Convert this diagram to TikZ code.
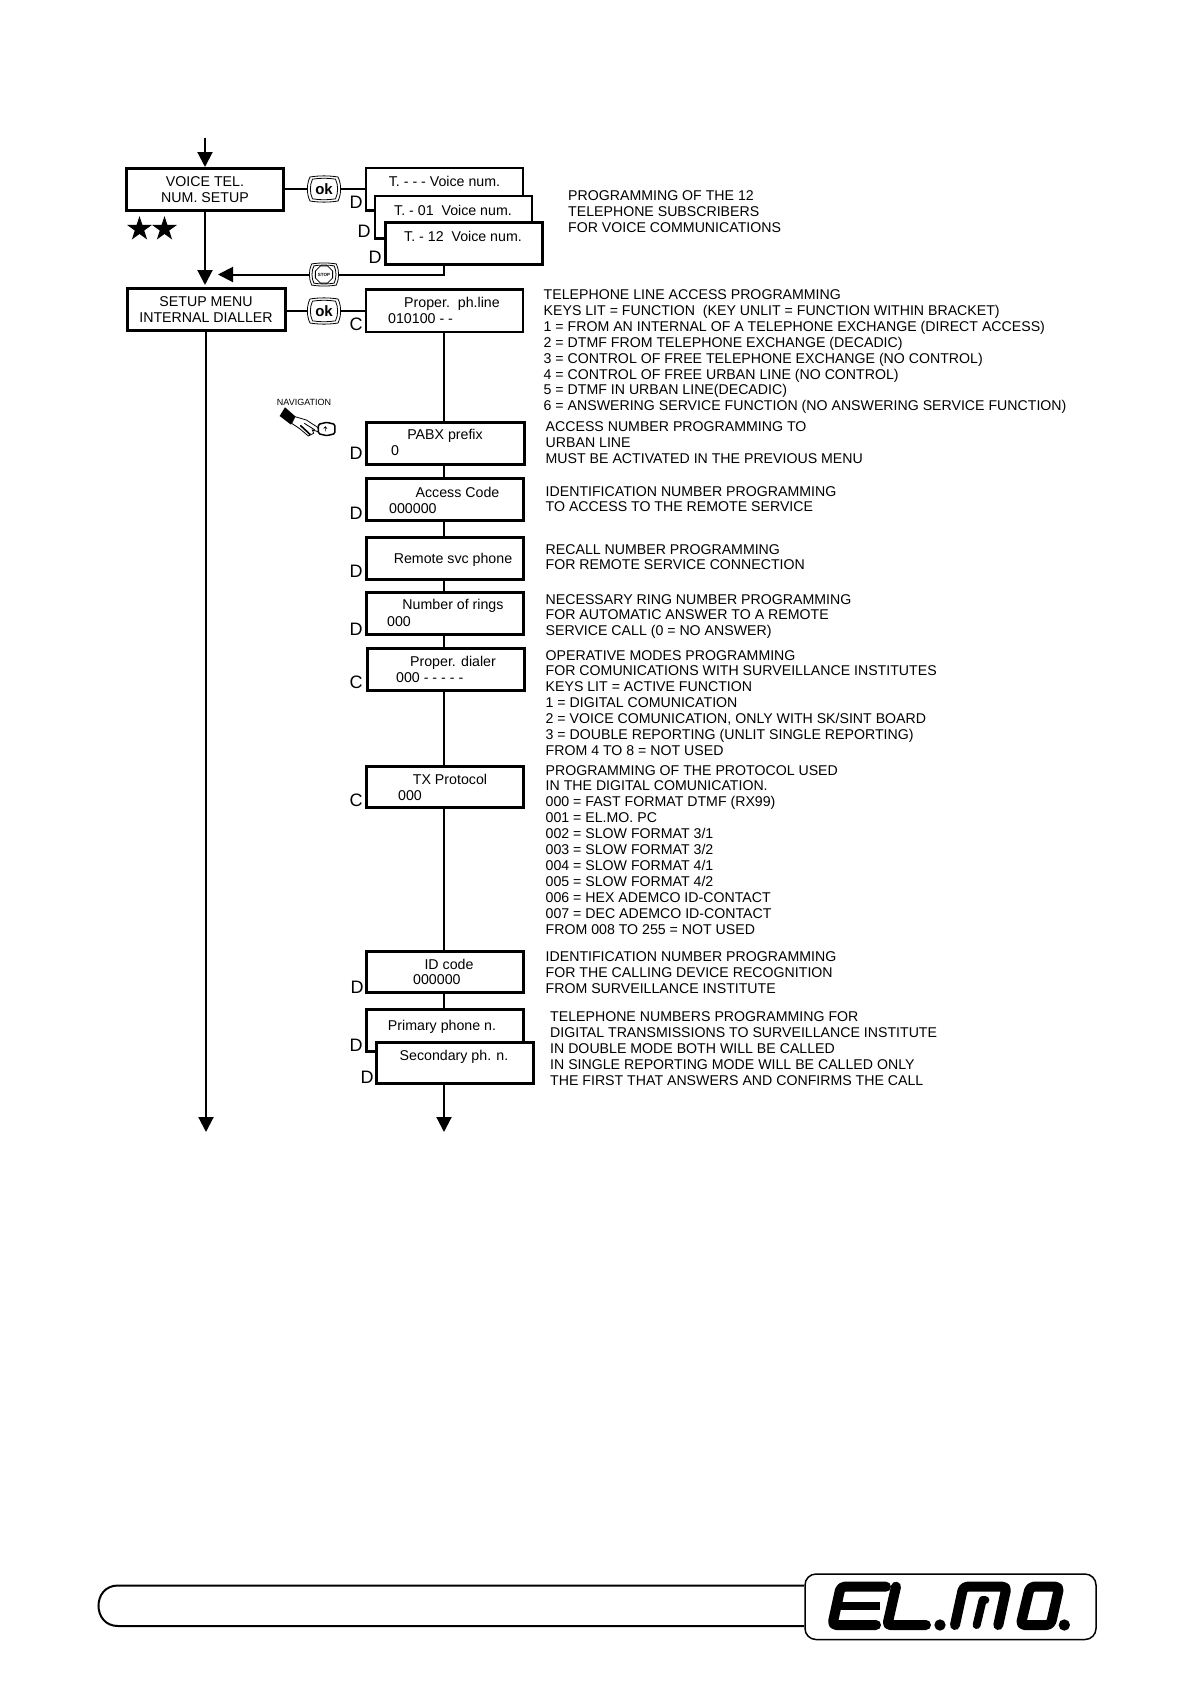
\documentclass[tikz,border=0pt]{standalone}
\usepackage{fontspec}
\setmainfont{Liberation Sans}
\usetikzlibrary{arrows.meta,shapes.geometric,calc}
\tikzset{
  x=1pt,y=-1pt,
  bx/.style={draw=black,fill=white,line width=3pt,inner sep=0pt,outer sep=0pt},
  bxthin/.style={bx,line width=2.5pt},
  conn/.style={line width=2pt,draw=black},
  arr/.style={conn,-{Triangle[length=15pt,width=15pt]}},
  lab/.style={inner sep=0pt,font=\fontsize{14.2}{16}\selectfont,text=black},
  tag/.style={inner sep=0pt,font=\fontsize{18}{18}\selectfont,text=black},
  desc/.style={anchor=north west,inner sep=0pt,align=left,font=\fontsize{14.15}{15.9}\selectfont,text=black},
  btn/.style={inner sep=0pt,outer sep=0pt,minimum width=33pt,minimum height=24pt},
  starshape/.style={star,star points=5,star point ratio=2.618,fill=black,inner sep=0pt,minimum size=26pt},
  logostroke/.style={line width=10pt,line join=round,line cap=round,draw=black},
}
\newcommand{\barrelpath}[1]{%
  \draw[line width=#1] (-14,-12) .. controls (-5,-13.5) and (5,-13.5) .. (14,-12)
    .. controls (17.5,-5) and (17.5,5) .. (14,12)
    .. controls (5,13.5) and (-5,13.5) .. (-14,12)
    .. controls (-17.5,5) and (-17.5,-5) .. (-14,-12) -- cycle;}
\begin{document}
\begin{tikzpicture}
\useasboundingbox (0,0) rectangle (1190,1684);
\fill[white] (0,0) rectangle (1190,1684);

% main boxes
\node[bx,minimum width=157pt,minimum height=42pt] (voice) at (205,189) {};
\node[bx,minimum width=158pt,minimum height=42pt] (setup) at (206,309) {};
\node[bxthin,minimum width=157pt,minimum height=42.5pt] (tv) at (444.5,189) {};
\node[bxthin,minimum width=157pt,minimum height=42.5pt] (t01) at (453.5,217) {};
\node[bx,minimum width=157pt,minimum height=42pt] (t12) at (464,243.5) {};

\node[bxthin,minimum width=157pt,minimum height=42.5pt] (proper) at (444.5,310.5) {};
\node[bx,minimum width=158pt,minimum height=42pt] (pabx) at (445.5,443) {};
\node[bx,minimum width=157pt,minimum height=42pt] (access) at (445,499) {};
\node[bx,minimum width=157pt,minimum height=42pt] (remote) at (445,558) {};
\node[bx,minimum width=157pt,minimum height=42pt] (rings) at (445,613) {};
\node[bx,minimum width=157pt,minimum height=42pt] (dialer) at (445.5,669) {};
\node[bx,minimum width=157pt,minimum height=41pt] (tx) at (445,786.5) {};
\node[bx,minimum width=157pt,minimum height=41pt] (idc) at (445,972) {};
\node[bx,minimum width=157pt,minimum height=42pt] (primary) at (445,1030) {};
\node[bx,minimum width=157pt,minimum height=41pt] (secondary) at (455,1062.5) {};

% buttons
\node[btn] (ok1) at (324,189) {};
\node[btn] (ok2) at (324,311) {};
\node[btn,minimum width=29pt,minimum height=20pt] (stop1) at (324,274.5) {};
\foreach \b/\s in {ok1/1,ok2/1,stop1/0.88}{
  \begin{scope}[shift={(\b.center)},scale=\s]
    \barrelpath{0.8pt}
    \begin{scope}[scale=0.82]\barrelpath{0.8pt}\end{scope}
  \end{scope}
}
\node[inner sep=0pt,font=\fontsize{15}{15}\bfseries\selectfont] (oktxt1) at (ok1.center) {ok};
\node[inner sep=0pt,font=\fontsize{15}{15}\bfseries\selectfont] (oktxt2) at (ok2.center) {ok};
\node[regular polygon,regular polygon sides=8,draw=black,line width=0.8pt,minimum size=17pt,inner sep=0pt,font=\fontsize{4.5}{5}\bfseries\selectfont] (stoptxt) at (stop1.center) {STOP};

% connector end points
\coordinate (topstart) at (205,138);
\coordinate (voicetop) at (205,167);
\coordinate (setuptop) at (205,285);
\coordinate (stopend) at (218,274.5);
\coordinate (endl) at (206,1132);
\coordinate (endr) at (444,1132);

% connectors
\draw[arr] (topstart) -- (voicetop);
\draw[arr] (voice.south) -- (setuptop);
\draw[arr] (setup.south) -- (endl);
\draw[conn] (voice.east |- ok1.west) -- (ok1.west);
\draw[conn] (ok1.east) -- (tv.west |- ok1.east);
\draw[conn] (setup.east |- ok2.west) -- (ok2.west);
\draw[conn] (ok2.east) -- (proper.west |- ok2.east);
\draw[conn] (endr |- t12.south) |- (stop1.east);
\draw[arr] (stop1.west) -- (stopend);
\draw[conn] (endr |- proper.south) -- (endr |- pabx.north);
\draw[conn] (endr |- pabx.south) -- (endr |- access.north);
\draw[conn] (endr |- access.south) -- (endr |- remote.north);
\draw[conn] (endr |- remote.south) -- (endr |- rings.north);
\draw[conn] (endr |- rings.south) -- (endr |- dialer.north);
\draw[conn] (endr |- dialer.south) -- (endr |- tx.north);
\draw[conn] (endr |- tx.south) -- (endr |- idc.north);
\draw[conn] (endr |- idc.south) -- (endr |- primary.north);
\draw[arr] (endr |- secondary.south) -- (endr);

% box labels
\node[lab] (l1) at (205,182) {VOICE TEL.};
\node[lab] (l2) at (205,197.5) {NUM. SETUP};
\node[lab] (l3) at (206,302) {SETUP MENU};
\node[lab] (l4) at (206,318) {INTERNAL DIALLER};
\node[lab] (l5) at (444.5,181.5) {T. - - - Voice num.};
\node[lab] (l6) at (453,210) {T. - 01\ \ Voice num.};
\node[lab] (l7) at (463,236) {T. - 12\ \ Voice num.};
\node[lab] (l8) at (452,303.5) {Proper.\ \ ph.line};
\node[lab,anchor=west] (l9) at (388,319) {010100 - -};
\node[lab] (l10) at (445,436) {PABX prefix};
\node[lab,anchor=west] (l11) at (391,451) {0};
\node[lab] (l12) at (457.5,492.5) {Access Code};
\node[lab,anchor=west] (l13) at (389,508.5) {000000};
\node[lab] (l14) at (453,560) {Remote svc phone};
\node[lab] (l15) at (453,606) {Number of rings};
\node[lab,anchor=west] (l16) at (387,622) {000};
\node[lab] (l17) at (453,663) {Proper. dialer};
\node[lab,anchor=west] (l18) at (396,678) {000 - - - - -};
\node[lab] (l19) at (450,779.5) {TX Protocol};
\node[lab,anchor=west] (l20) at (398,795.5) {000};
\node[lab] (l21) at (449,964.5) {ID code};
\node[lab,anchor=west] (l22) at (413,980) {000000};
\node[lab] (l23) at (442,1026.5) {Primary phone n.};
\node[lab] (l24) at (454,1056.5) {Secondary ph. n.};

% side letters
\node[tag] (d1) at (356,202) {D};
\node[tag] (d2) at (364,231) {D};
\node[tag] (d3) at (375,257) {D};
\node[tag] (c1) at (356,324) {C};
\node[tag] (d4) at (356,453) {D};
\node[tag] (d5) at (356,513) {D};
\node[tag] (d6) at (356,571) {D};
\node[tag] (d7) at (356,629) {D};
\node[tag] (c2) at (356,682) {C};
\node[tag] (c3) at (356,800) {C};
\node[tag] (d8) at (357,987) {D};
\node[tag] (d9) at (356,1045) {D};
\node[tag] (d10) at (367,1077) {D};

% stars
\node[starshape] (s1) at (139.5,229) {};
\node[starshape] (s2) at (164.5,229) {};

% descriptions
\node[desc] (t1) at (568,190.5) {PROGRAMMING OF THE 12\\TELEPHONE SUBSCRIBERS\\FOR VOICE COMMUNICATIONS};
\node[desc] (t2) at (543.5,289.5) {TELEPHONE LINE ACCESS PROGRAMMING\\KEYS LIT = FUNCTION\ \ (KEY UNLIT = FUNCTION WITHIN BRACKET)\\1 = FROM AN INTERNAL OF A TELEPHONE EXCHANGE (DIRECT ACCESS)\\2 = DTMF FROM TELEPHONE EXCHANGE (DECADIC)\\3 = CONTROL OF FREE TELEPHONE EXCHANGE (NO CONTROL)\\4 = CONTROL OF FREE URBAN LINE (NO CONTROL)\\5 = DTMF IN URBAN LINE(DECADIC)\\6 = ANSWERING SERVICE FUNCTION (NO ANSWERING SERVICE FUNCTION)};
\node[desc] (t3) at (545.5,421.5) {ACCESS NUMBER PROGRAMMING TO\\URBAN LINE\\MUST BE ACTIVATED IN THE PREVIOUS MENU};
\node[desc] (t4) at (545.5,486) {IDENTIFICATION NUMBER PROGRAMMING\\TO ACCESS TO THE REMOTE SERVICE};
\node[desc] (t5) at (545.5,544) {RECALL NUMBER PROGRAMMING\\FOR REMOTE SERVICE CONNECTION};
\node[desc] (t6) at (545.5,594) {NECESSARY RING NUMBER PROGRAMMING\\FOR AUTOMATIC ANSWER TO A REMOTE\\SERVICE CALL (0 = NO ANSWER)};
\node[desc] (t7) at (545.5,650) {OPERATIVE MODES PROGRAMMING\\FOR COMUNICATIONS WITH SURVEILLANCE INSTITUTES\\KEYS LIT = ACTIVE FUNCTION\\1 = DIGITAL COMUNICATION\\2 = VOICE COMUNICATION, ONLY WITH SK/SINT BOARD\\3 = DOUBLE REPORTING (UNLIT SINGLE REPORTING)\\FROM 4 TO 8 = NOT USED};
\node[desc] (t8) at (545.5,765) {PROGRAMMING OF THE PROTOCOL USED\\IN THE DIGITAL COMUNICATION.\\000 = FAST FORMAT DTMF (RX99)\\001 = EL.MO. PC\\002 = SLOW FORMAT 3/1\\003 = SLOW FORMAT 3/2\\004 = SLOW FORMAT 4/1\\005 = SLOW FORMAT 4/2\\006 = HEX ADEMCO ID-CONTACT\\007 = DEC ADEMCO ID-CONTACT\\FROM 008 TO 255 = NOT USED};
\node[desc] (t9) at (545.5,951.5) {IDENTIFICATION NUMBER PROGRAMMING\\FOR THE CALLING DEVICE RECOGNITION\\FROM SURVEILLANCE INSTITUTE};
\node[desc] (t10) at (550,1011.5) {TELEPHONE NUMBERS PROGRAMMING FOR\\DIGITAL TRANSMISSIONS TO SURVEILLANCE INSTITUTE\\IN DOUBLE MODE BOTH WILL BE CALLED\\IN SINGLE REPORTING MODE WILL BE CALLED ONLY\\THE FIRST THAT ANSWERS AND CONFIRMS THE CALL};

% navigation hand
\node[inner sep=0pt,font=\fontsize{9}{9}\selectfont] (nav) at (304,402) {NAVIGATION};
\begin{scope}[shift={(265,390)},scale=0.3333]
  \fill[black] (44,78) -- (60,52) -- (92,80) -- (78,104) -- cycle;
  \draw[fill=white,line width=0.8pt] (90,80) -- (124,90) -- (158,112) -- (163,126) -- (142,120) -- (146,130) -- (130,138) -- (104,116) -- (80,100) -- cycle;
  \draw[line width=1.6pt] (106,106) -- (136,134);
  \draw[line width=0.8pt] (118,100) -- (150,120);
  \draw[fill=white,line width=1.5pt,rounded corners=1.5pt] (160,103) -- (185,97) -- (210,103) -- (210,131) -- (185,137) -- (160,131) -- cycle;
  \draw[line width=0.6pt] (181,124) -- (181,112) (176,116) -- (181,110) -- (186,116);
\end{scope}

% footer
\draw[line width=2pt] (804,1585.5) -- (118,1585.5) .. controls (92,1585.5) and (92,1626) .. (118,1626) -- (804,1626);
\draw[line width=1.5pt,rounded corners=11pt] (805,1574) rectangle (1096,1639.5);
\begin{scope}[shift={(800,1565)},scale=0.3333]
  \draw[logostroke,line width=10pt,rounded corners=4pt] (258,65) -- (122,65) -- (97,180) -- (228,180);
  \draw[logostroke,line width=8pt,line cap=butt] (112,122) -- (240,122);
  \draw[logostroke,rounded corners=3pt] (288,65) -- (262,180) -- (378,180);
  \fill (420,180) circle (17);
  \draw[logostroke,rounded corners=4pt] (465,180) -- (490,65) -- (620,65) -- (595,180);
  \draw[logostroke,line width=8pt] (530,180) -- (548,105) -- (556,105);
  \draw[logostroke,rounded corners=4pt] (690,65) -- (778,65) -- (752,180) -- (662,180) -- cycle;
  \fill (793,180) circle (17);
\end{scope}
\end{tikzpicture}
\end{document}
